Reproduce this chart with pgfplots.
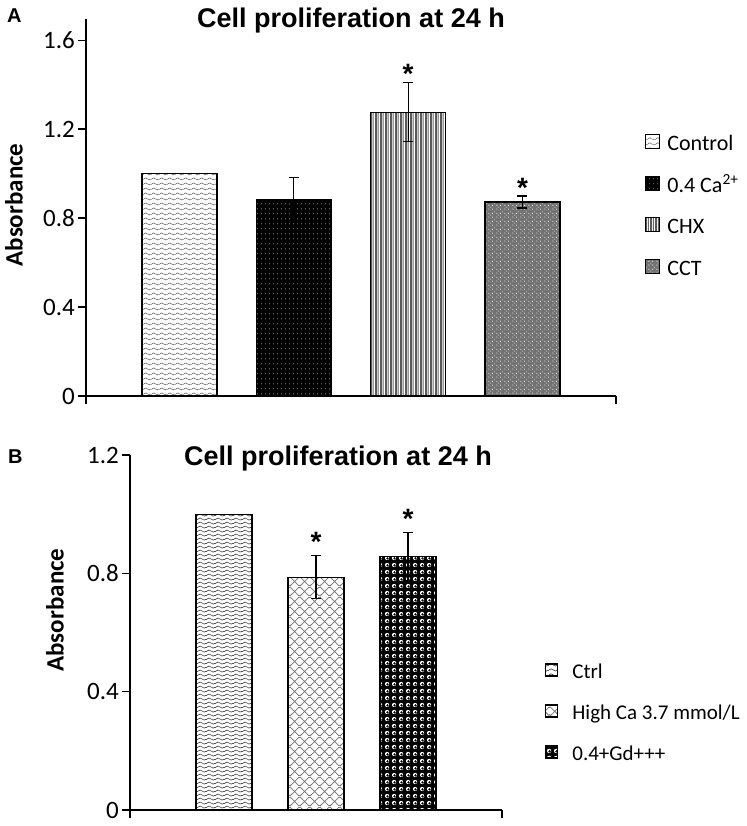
\documentclass[border=0pt]{standalone}
\usepackage{fontspec}
\setmainfont{Carlito}
\newfontfamily\arial{Liberation Sans}
\usepackage{pgfplots}
\pgfplotsset{compat=1.18}
\usetikzlibrary{patterns,patterns.meta}

\tikzdeclarepattern{
  name=waveA, type=colored,
  bottom left={(0pt,0pt)}, top right={(8pt,5pt)}, tile size={(8pt,5pt)},
  code={
    \draw[black!65, line width=0.7pt, dash pattern=on 1.6pt off 0.6pt] (0pt,2.5pt) sin (2pt,3.7pt) cos (4pt,2.5pt) sin (6pt,1.3pt) cos (8pt,2.5pt);
  }
}
\tikzdeclarepattern{
  name=dotsBlk, type=colored,
  bottom left={(0pt,0pt)}, top right={(4pt,5pt)}, tile size={(4pt,5pt)},
  code={
    \fill[black] (-1pt,-1pt) rectangle (5pt,6pt);
    \fill[white] (2pt,2.5pt) circle (0.5pt);
  }
}
\tikzdeclarepattern{
  name=vlinesCHX, type=colored,
  bottom left={(0pt,0pt)}, top right={(5pt,1pt)}, tile size={(5pt,1pt)},
  code={
    \draw[black, line width=1.4pt] (1.25pt,-1pt) -- (1.25pt,2pt);
    \draw[black!60, line width=1.3pt] (3.75pt,-1pt) -- (3.75pt,2pt);
  }
}
\tikzdeclarepattern{
  name=cctP, type=colored,
  bottom left={(0pt,0pt)}, top right={(8pt,8pt)}, tile size={(8pt,8pt)},
  code={
    \fill[black!55] (-1pt,-1pt) rectangle (9pt,9pt);
    \fill[white] (1pt,1pt) circle (0.6pt);
    \fill[white] (5pt,1pt) circle (0.6pt);
    \fill[white] (1pt,5pt) circle (0.6pt);
    \fill[white] (5pt,5pt) circle (0.6pt);
    \fill[black!25] (2.5pt,2.5pt) rectangle (3.5pt,3.5pt);
    \fill[black!25] (6.5pt,6.5pt) rectangle (7.5pt,7.5pt);
  }
}
\tikzdeclarepattern{
  name=waveB, type=colored,
  bottom left={(0pt,0pt)}, top right={(9pt,4.4pt)}, tile size={(9pt,4.4pt)},
  code={
    \draw[black!75, line width=0.7pt] (0pt,2.2pt) sin (2.25pt,3.4pt) cos (4.5pt,2.2pt) sin (6.75pt,1.0pt) cos (9pt,2.2pt);
  }
}
\tikzdeclarepattern{
  name=xhatch, type=colored,
  bottom left={(0pt,0pt)}, top right={(10pt,10pt)}, tile size={(10pt,10pt)},
  code={
    \draw[black!55, line width=0.8pt] (-1pt,-1pt) -- (11pt,11pt) (-1pt,11pt) -- (11pt,-1pt);
  }
}
\tikzdeclarepattern{
  name=gdP, type=colored,
  bottom left={(0pt,0pt)}, top right={(6.5pt,6.5pt)}, tile size={(6.5pt,6.5pt)},
  code={
    \fill[black] (-1pt,-1pt) rectangle (7.5pt,7.5pt);
    \fill[white] (3.25pt,3.25pt) circle (2.3pt);
    \fill[black] (3.7pt,2.8pt) circle (1.4pt);
  }
}

\pgfplotsset{
  sqA/.style={legend image code/.code={\draw[##1] (0pt,-3pt) rectangle (14pt,11pt);}},
  sqB/.style={legend image code/.code={\draw[##1] (0pt,-3pt) rectangle (12pt,9pt);}},
  errstyle/.style={error bars/.cd, y dir=both, y explicit,
     error bar style={line width=1.2pt, black},
     error mark options={rotate=90, mark size=5pt, line width=1.2pt, black}},
}
\newcommand{\tk}{\fontsize{25}{25}\selectfont}

\begin{document}
\begin{tikzpicture}
\path[use as bounding box] (0,0) rectangle (746pt,826pt);

% ---------------- Panel A ----------------
\begin{axis}[
  at={(86pt,430pt)}, anchor=south west, scale only axis,
  width=530pt, height=377pt,
  xmin=-0.818, xmax=3.818, ymin=0, ymax=1.695,
  axis x line*=bottom, axis y line*=left,
  axis line style={line width=1.2pt, -},
  ytick={0,0.4,0.8,1.2,1.6},
  yticklabels={{\tk 0},{\tk 0.4},{\tk 0.8},{\tk 1.2},{\tk 1.6}},
  xtick={-0.818,3.818}, xticklabels={},
  tick align=outside, major tick length=8pt,
  tick style={line width=1.2pt, black},
  yticklabel style={inner sep=1pt, xshift=-2pt},
  clip=false,
  legend cell align=left,
  legend style={at={(1.0547,0.501)}, anchor=west, draw=none, fill=none,
     inner sep=0pt, font=\fontsize{22}{22}\selectfont, row sep=20pt, column sep=7pt,
     nodes={inner sep=0pt, text height=15pt, text depth=5pt}},
]
\addplot[ybar, bar shift=0pt, bar width=75pt, draw=black, line width=1.2pt,
  pattern=waveA, sqA]
  coordinates {(0,1.0)};
\addlegendentry{Control}
\addplot[ybar, bar shift=0pt, bar width=75pt, draw=black, line width=1.2pt,
  pattern=dotsBlk, sqA, errstyle]
  coordinates {(1,0.885) +- (0,0.099)};
\addlegendentry{0.4 Ca\textsuperscript{2+}}
\addplot[ybar, bar shift=0pt, bar width=75pt, draw=black, line width=1.2pt,
  pattern=vlinesCHX, sqA, errstyle]
  coordinates {(2,1.276) +- (0,0.133)};
\addlegendentry{CHX}
\addplot[ybar, bar shift=0pt, bar width=75pt, draw=black, line width=1.2pt,
  pattern=cctP, sqA, errstyle]
  coordinates {(3,0.872) +- (0,0.027)};
\addlegendentry{CCT}
\node[font=\arial\bfseries\fontsize{28}{28}\selectfont, anchor=base, inner sep=0pt] at (axis cs:2,1.407) {*};
\node[font=\arial\bfseries\fontsize{28}{28}\selectfont, anchor=base, inner sep=0pt] at (axis cs:3,0.894) {*};
\end{axis}

% ---------------- Panel B ----------------
\begin{axis}[
  at={(130pt,16pt)}, anchor=south west, scale only axis,
  width=372pt, height=355pt,
  xmin=-1.022, xmax=3.022, ymin=0, ymax=1.2,
  axis x line*=bottom, axis y line*=left,
  axis line style={line width=1.2pt, -},
  ytick={0,0.4,0.8,1.2},
  yticklabels={{\tk 0},{\tk 0.4},{\tk 0.8},{\tk 1.2}},
  xtick={-1.022,3.022}, xticklabels={},
  tick align=outside, major tick length=8pt,
  tick style={line width=1.2pt, black},
  yticklabel style={inner sep=1pt, xshift=-2pt},
  clip=false,
  legend cell align=left,
  legend style={at={(1.1156,0.2704)}, anchor=west, draw=none, fill=none,
     inner sep=0pt, font=\fontsize{21}{21}\selectfont, row sep=21pt, column sep=14pt,
     nodes={inner sep=0pt, text height=15pt, text depth=5pt}},
]
\addplot[ybar, bar shift=0pt, bar width=56pt, draw=black, line width=1.2pt,
  pattern=waveB, sqB]
  coordinates {(0,1.0)};
\addlegendentry{Ctrl}
\addplot[ybar, bar shift=0pt, bar width=56pt, draw=black, line width=1.2pt,
  pattern=xhatch, sqB, errstyle]
  coordinates {(1,0.787) +- (0,0.072)};
\addlegendentry{High Ca 3.7 mmol/L}
\addplot[ybar, bar shift=0pt, bar width=56pt, draw=black, line width=1.2pt,
  pattern=gdP, sqB, errstyle]
  coordinates {(2,0.857) +- (0,0.08)};
\addlegendentry{0.4+Gd+++}
\node[font=\arial\bfseries\fontsize{28}{28}\selectfont, anchor=base, inner sep=0pt] at (axis cs:1,0.873) {*};
\node[font=\arial\bfseries\fontsize{28}{28}\selectfont, anchor=base, inner sep=0pt] at (axis cs:2,0.950) {*};
\end{axis}

% titles and labels
\node[font=\arial\bfseries\fontsize{27}{27}\selectfont, anchor=base, inner sep=0pt] at (351pt,798pt) {Cell proliferation at 24 h};
\node[font=\arial\bfseries\fontsize{27}{27}\selectfont, anchor=base, inner sep=0pt] at (338pt,360pt) {Cell proliferation at 24 h};
\node[font=\arial\bfseries\fontsize{20}{20}\selectfont, anchor=base west, inner sep=0pt] at (7pt,803pt) {A};
\node[font=\arial\bfseries\fontsize{20}{20}\selectfont, anchor=base west, inner sep=0pt] at (8pt,362pt) {B};
\node[font=\bfseries\fontsize{25}{25}\selectfont, rotate=90, inner sep=0pt] at (14pt,621pt) {Absorbance};
\node[font=\bfseries\fontsize{25}{25}\selectfont, rotate=90, inner sep=0pt] at (55pt,216pt) {Absorbance};
\end{tikzpicture}
\end{document}
